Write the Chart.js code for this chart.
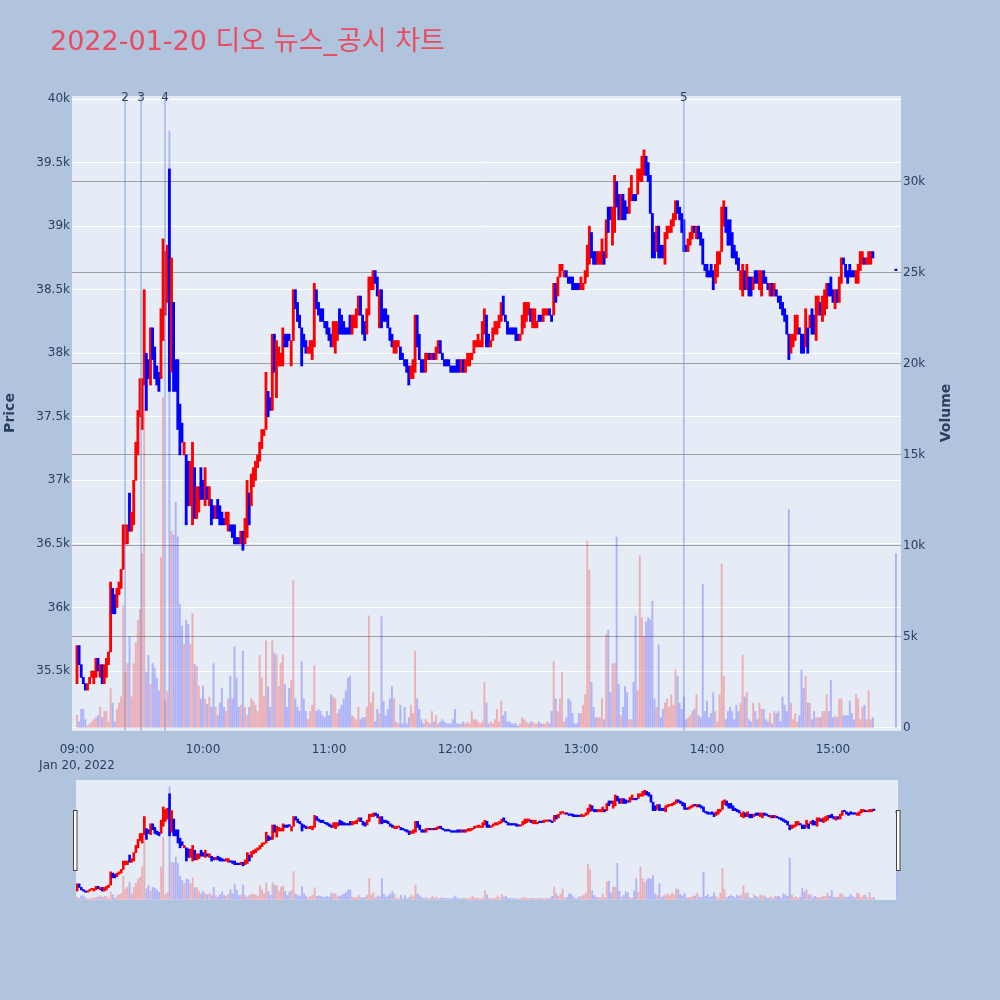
<!DOCTYPE html>
<html><head><meta charset="utf-8">
<script src="https://cdn.jsdelivr.net/npm/chart.js@4.4.1/dist/chart.umd.min.js"></script>
<style>
html,body{margin:0;padding:0;background:#B0C4DE;}
#wrap{position:relative;width:1000px;height:1000px;background:#B0C4DE;overflow:hidden;}
#main{position:absolute;left:0;top:0;}
#mini{position:absolute;left:0;top:770px;}
</style></head><body>
<div id="wrap"><canvas id="main" width="1000" height="1000"></canvas><canvas id="mini" width="1000" height="230"></canvas></div>
<script>
const chartTitle = '2022-01-20 디오 뉴스_공시 차트';
const tickMinutes = [0, 60, 120, 180, 240, 300, 360];
const tickLabels = ['09:00', '10:00', '11:00', '12:00', '13:00', '14:00', '15:00'];
const dateLabel = 'Jan 20, 2022';
const priceTicks = [35500, 36000, 36500, 37000, 37500, 38000, 38500, 39000, 39500, 40000];
const volumeTicks = [0, 5000, 10000, 15000, 20000, 25000, 30000];
const newsMinutes = [22.9, 30.5, 41.9, 289.0];
const newsLabels = ['2', '3', '4', '5'];

// minute index from 09:00 (0 .. 390)
const opens = [
35400,35700,35550,35450,35400,35350,35400,35450,35400,35450,
35600,35450,35550,35400,35450,35550,35650,36150,36100,36000,
36100,36150,36300,36500,36500,36900,36600,36650,37000,37200,
37500,37400,37750,38000,37950,37750,38200,38050,37900,37850,
37800,38100,38300,38400,39450,37850,38400,37950,37950,37600,
37450,37200,37200,37150,36800,36650,37100,36700,36750,37100,
37000,36800,36950,36800,36850,36800,36700,36850,36800,36750,
36700,36650,36600,36650,36650,36650,36550,36550,36500,36600,
36500,36550,36900,36800,36950,37000,37100,37150,37250,37350,
37400,37700,37650,37550,38150,37650,37900,37900,37900,38150,
38150,38150,37900,38100,38500,38400,38300,38200,38150,38100,
38000,38000,37950,38050,38500,38400,38350,38350,38250,38250,
38200,38150,38050,38000,38100,38350,38300,38250,38200,38200,
38300,38150,38200,38200,38300,38450,38300,38250,38150,38300,
38500,38500,38650,38600,38200,38500,38350,38350,38300,38200,
38150,38000,38000,38050,38050,38000,37950,37950,37900,37800,
37800,37850,38300,38150,37950,37950,37850,37950,38000,37950,
38000,37950,38000,38100,38000,37950,37950,37950,37900,37900,
37900,37950,37950,37850,37950,37850,37900,37900,37950,38000,
38050,38050,38050,38050,38150,38300,38150,38050,38100,38150,
38150,38200,38250,38450,38300,38250,38200,38200,38200,38200,
38150,38100,38150,38200,38250,38300,38350,38200,38200,38200,
38300,38300,38250,38300,38300,38350,38300,38300,38550,38450,
38600,38650,38600,38650,38600,38600,38600,38550,38550,38550,
38500,38500,38550,38600,38700,38950,38800,38800,38700,38700,
38700,38800,38750,39150,39150,38850,38950,39350,39250,39050,
39250,39200,39150,39100,39200,39250,39250,39250,39350,39350,
39400,39550,39500,39400,39100,38950,38800,39000,38850,38850,
38700,38900,38950,38950,39000,39050,39200,39150,39100,39050,
38850,38800,38850,38900,39000,38900,39000,38950,38900,38700,
38700,38650,38700,38650,38550,38600,38700,38800,39000,39150,
39050,39050,38950,38850,38800,38750,38500,38450,38650,38500,
38600,38600,38500,38650,38650,38500,38450,38650,38600,38550,
38450,38550,38450,38500,38450,38450,38400,38350,38300,38150,
38000,38050,38100,38150,38200,38150,38150,38050,38200,38200,
38350,38300,38100,38300,38400,38250,38300,38350,38550,38600,
38500,38350,38500,38400,38550,38750,38700,38650,38700,38650,
38650,38550,38550,38650,38700,38750,38700,38700,38700,38800,
null,null,null,null,null,null,null,null,null,null,
38650
];
const closes = [
35700,35550,35450,35400,35350,35400,35450,35500,35500,35600,
35500,35550,35400,35550,35600,35650,36200,35950,35950,36150,
36200,36300,36650,36650,36650,36600,36750,37000,37300,37550,
37800,37800,38500,37550,37800,38200,37950,37800,37750,37700,
38350,38900,38800,38850,37700,38750,37700,37700,37400,37200,
37300,37300,36650,36800,37150,37300,36700,36950,36950,36850,
36850,37100,36850,36950,36650,36700,36800,36700,36650,36650,
36650,36750,36750,36600,36550,36500,36500,36500,36600,36450,
36700,37000,36650,37050,37100,37150,37200,37300,37400,37400,
37850,37500,37550,38150,37850,38100,38050,38000,38200,38050,
38050,38100,38100,38500,38350,38250,38200,37900,38050,38000,
38050,38100,38100,38550,38350,38300,38250,38250,38200,38150,
38100,38050,38250,38250,38250,38150,38150,38150,38150,38150,
38150,38300,38300,38350,38450,38300,38150,38100,38350,38600,
38600,38650,38550,38450,38500,38200,38250,38250,38200,38100,
38050,38100,38100,38100,37950,37950,37900,37850,37750,37900,
37950,38300,38050,37950,37850,37850,38000,38000,37950,38000,
37950,38050,38100,38000,37950,37900,37900,37900,37850,37850,
37850,37850,37850,37950,37850,37950,38000,38000,38000,38100,
38100,38150,38100,38250,38350,38050,38050,38100,38200,38250,
38250,38300,38400,38300,38250,38150,38150,38150,38150,38100,
38100,38150,38300,38400,38400,38400,38250,38350,38350,38250,
38250,38250,38350,38350,38350,38300,38250,38550,38400,38600,
38700,38700,38650,38600,38550,38550,38500,38500,38500,38500,
38600,38550,38650,38850,39000,38750,38700,38700,38800,38800,
38900,38700,39050,38950,39050,39150,39400,39150,39050,39250,
39050,39050,39100,39300,39400,39200,39200,39450,39450,39550,
39600,39400,39350,39100,38750,38750,39000,38750,38750,38750,
38950,39000,39000,39050,39100,39200,39100,39050,38950,38800,
38800,38900,38950,39000,38950,39000,38900,38850,38700,38650,
38600,38600,38600,38500,38700,38800,38800,39150,39200,38950,
38850,38850,38750,38750,38700,38650,38650,38700,38500,38700,
38450,38450,38600,38550,38550,38650,38650,38550,38550,38500,
38550,38450,38550,38450,38400,38350,38300,38250,38150,37950,
38150,38150,38300,38300,38150,38000,38000,38350,38000,38300,
38150,38150,38450,38450,38300,38450,38500,38550,38450,38450,
38400,38500,38400,38600,38750,38700,38600,38550,38600,38600,
38600,38650,38700,38800,38800,38700,38750,38800,38800,38750,
null,null,null,null,null,null,null,null,null,null,
38650
];
const volumes = [
700,340,1030,1030,460,100,230,340,460,570,
680,1140,570,910,910,340,2170,1370,340,1030,
1370,1710,6730,3080,3540,5020,1710,3540,4680,5940,
6510,9590,24000,3080,4000,2400,3540,3310,2740,2050,
9360,18150,1500,2000,32800,10800,10600,12400,10500,6800,
5600,4600,5900,5700,4600,6300,3500,3400,2300,1600,
2300,1600,1300,1700,1140,3540,1140,680,1370,2170,
1140,910,1600,2850,1600,4450,2740,1140,1260,4220,
1140,680,1140,1600,1480,1260,910,4000,2740,1710,
4790,2280,1140,4790,4110,4000,2280,3540,4000,2400,
1140,2170,2630,8100,1600,1140,910,3650,1600,910,
460,910,1260,3420,910,1030,910,680,570,910,
680,1830,1710,1600,800,1030,1260,1600,2050,2740,
2850,680,570,460,1140,460,570,570,1140,6160,
1370,1940,340,1030,800,6120,1480,680,1030,1600,
2280,1600,340,230,1260,230,1140,230,570,1260,
800,4220,1600,1030,460,230,460,340,230,910,
340,680,230,340,460,340,230,230,230,460,
1030,230,230,230,340,230,340,230,910,460,
460,340,230,340,2510,1370,230,340,230,460,
1030,340,1480,680,910,340,340,230,230,230,
110,230,570,460,340,230,340,340,230,230,
340,230,230,230,340,230,910,3650,1600,910,
1600,3080,340,570,1600,1480,800,230,230,800,
800,1260,1830,10270,8680,2510,1140,570,570,570,
1600,460,5140,5370,1940,3540,3540,10500,2400,680,
1140,2280,1940,460,460,2510,6160,2050,9470,6050,
5020,5820,6050,5940,6960,1600,1140,4570,570,1030,
1370,1600,1140,1830,1260,3200,2850,1370,1030,1710,
460,570,680,910,1030,1830,680,570,7880,910,
1480,570,800,1940,910,340,1830,9020,2850,460,
910,1140,910,460,1260,910,1370,4000,1710,1940,
460,340,1370,910,460,1370,1030,1030,460,340,
800,230,910,800,910,340,1710,1260,910,12000,
1370,460,800,340,680,3200,2170,2850,1370,1370,
460,910,570,570,570,910,910,1830,910,2630,
570,680,570,1600,1600,680,680,680,1480,800,
460,1830,1600,460,1140,1260,460,2050,460,570,
null,null,null,null,null,null,null,null,null,null,
9590
];

const RED = '#FF0000', BLUE = '#0000FF';
const VRED = 'rgba(255,0,0,0.26)', VBLUE = 'rgba(0,0,255,0.24)';
const PLOT_BG = '#E5ECF6', AXIS_TXT = '#2a3f5f';
const FONT = "'DejaVu Sans', 'Noto Sans CJK KR', sans-serif";

function buildSets(candleW, volW) {
  const cd = [], cc = [], vd = [], vc = [];
  for (let i = 0; i < opens.length; i++) {
    if (opens[i] == null) continue;
    const up = closes[i] > opens[i];
    cd.push({x: i, y: [opens[i], closes[i]]});
    cc.push(up ? RED : BLUE);
    vd.push({x: i, y: volumes[i]});
    vc.push(up ? VRED : VBLUE);
  }
  return [
    {type: 'bar', data: vd, yAxisID: 'yv', backgroundColor: vc, borderWidth: 0, grouped: false, barThickness: volW, order: 2},
    {type: 'bar', data: cd, yAxisID: 'y', backgroundColor: cc, borderWidth: 0, grouped: false, barThickness: candleW, minBarLength: 1.5, order: 1}
  ];
}

const kfmt = v => v === 0 ? '0' : (v / 1000) + 'k';

const mainDeco = {
  id: 'mainDeco',
  beforeDraw(chart) {
    const a = chart.chartArea, c = chart.ctx;
    c.save(); c.fillStyle = PLOT_BG; c.fillRect(a.left, a.top, a.right - a.left, a.bottom - a.top); c.restore();
  },
  afterDatasetsDraw(chart) {
    const a = chart.chartArea, c = chart.ctx, xs = chart.scales.x;
    c.save();
    c.strokeStyle = 'rgba(110,140,225,0.55)'; c.lineWidth = 1.5;
    newsMinutes.forEach(m => {
      const x = xs.getPixelForValue(m);
      c.beginPath(); c.moveTo(x, a.top); c.lineTo(x, a.bottom); c.stroke();
    });
    c.restore();
  },
  afterDraw(chart) {
    const c = chart.ctx, xs = chart.scales.x;
    c.save();
    c.fillStyle = AXIS_TXT; c.font = '12px ' + FONT; c.textAlign = 'center'; c.textBaseline = 'alphabetic';
    newsMinutes.forEach((m, i) => c.fillText(newsLabels[i], xs.getPixelForValue(m), 101));
    c.fillStyle = '#EB4A60'; c.font = '27px ' + FONT; c.textAlign = 'left';
    c.fillText(chartTitle, 50, 50);
    c.fillStyle = AXIS_TXT; c.font = 'bold 14px ' + FONT; c.textAlign = 'center'; c.textBaseline = 'middle';
    c.translate(10, 413); c.rotate(-Math.PI / 2); c.fillText('Price', 0, 0);
    c.setTransform(1, 0, 0, 1, 0, 0);
    c.translate(946, 413); c.rotate(-Math.PI / 2); c.fillText('Volume', 0, 0);
    c.restore();
  }
};

new Chart(document.getElementById('main'), {
  data: {datasets: buildSets(2.2, 1.3)},
  options: {
    responsive: false, animation: false, devicePixelRatio: 1, events: [],
    layout: {padding: {top: 96, left: 0, right: 0, bottom: 0}},
    plugins: {legend: {display: false}, tooltip: {enabled: false}},
    scales: {
      x: {
        type: 'linear', position: 'bottom', min: -2.38, max: 392.4, bounds: 'data', offset: false,
        grid: {display: false, offset: false}, border: {display: false},
        afterBuildTicks: s => { s.ticks = tickMinutes.map(v => ({value: v})); },
        afterFit: s => { s.height = 269; },
        ticks: {
          autoSkip: false, maxRotation: 0, minRotation: 0, padding: 3, color: AXIS_TXT,
          font: {family: FONT, size: 12, lineHeight: 1.35},
          callback: (v) => { const i = tickMinutes.indexOf(v); if (i < 0) return ''; return i === 0 ? [tickLabels[i], dateLabel] : tickLabels[i]; }
        }
      },
      y: {
        type: 'linear', position: 'left', min: 35028, max: 40024, bounds: 'data',
        grid: {color: '#FFFFFF', lineWidth: 1, drawTicks: false}, border: {display: false},
        afterBuildTicks: s => { s.ticks = priceTicks.map(v => ({value: v})); },
        afterFit: s => { s.width = 72; },
        ticks: {padding: 2, color: AXIS_TXT, font: {family: FONT, size: 12}, callback: kfmt}
      },
      yv: {
        type: 'linear', position: 'right', min: -165, max: 34725, bounds: 'data',
        grid: {color: ctx => (ctx.tick && ctx.tick.value === 0) ? '#FFFFFF' : '#a0a0a0', lineWidth: 1, drawTicks: false},
        border: {display: false},
        afterBuildTicks: s => { s.ticks = volumeTicks.map(v => ({value: v})); },
        afterFit: s => { s.width = 99; },
        ticks: {padding: 2, color: AXIS_TXT, font: {family: FONT, size: 12}, callback: kfmt}
      }
    }
  },
  plugins: [mainDeco]
});

const miniDeco = {
  id: 'miniDeco',
  beforeDraw(chart) {
    const a = chart.chartArea, c = chart.ctx;
    c.save(); c.fillStyle = PLOT_BG; c.fillRect(a.left, a.top, a.right - a.left, a.bottom - a.top); c.restore();
  },
  afterDraw(chart) {
    const c = chart.ctx;
    c.save();
    c.fillStyle = '#FFFFFF'; c.strokeStyle = '#444444'; c.lineWidth = 1;
    [[73.5, 40.5], [896.5, 40.5]].forEach(p => { c.fillRect(p[0], p[1], 3.5, 60); c.strokeRect(p[0], p[1], 3.5, 60); });
    c.restore();
  }
};

new Chart(document.getElementById('mini'), {
  data: {datasets: buildSets(2.0, 1.2)},
  options: {
    responsive: false, animation: false, devicePixelRatio: 1, events: [],
    layout: {padding: {top: 10, left: 76, right: 102, bottom: 100}},
    plugins: {legend: {display: false}, tooltip: {enabled: false}},
    scales: {
      x: {type: 'linear', display: false, min: -0.5, max: 390.5, bounds: 'data', offset: false, grid: {offset: false}},
      y: {type: 'linear', display: false, min: 35028, max: 40024, bounds: 'data'},
      yv: {type: 'linear', display: false, min: -165, max: 34725, bounds: 'data'}
    }
  },
  plugins: [miniDeco]
});
</script>
</body></html>
